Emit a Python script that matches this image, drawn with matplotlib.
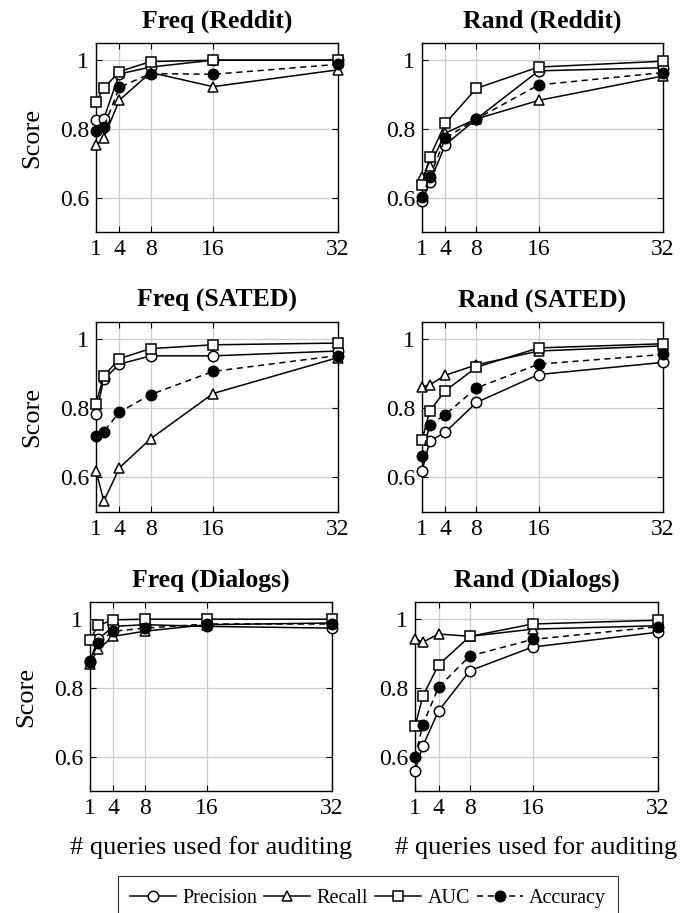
import matplotlib
matplotlib.use("Agg")
import matplotlib.pyplot as plt
from matplotlib.lines import Line2D

plt.rcParams["font.family"] = ["Liberation Serif", "DejaVu Serif"]

queries = [1, 2, 4, 8, 16, 32]
x_ticks = [1, 4, 8, 16, 32]
y_ticks = [0.6, 0.8, 1.0]
y_tick_labels = ["0.6", "0.8", "1"]

titles = ["Freq (Reddit)", "Rand (Reddit)",
          "Freq (SATED)", "Rand (SATED)",
          "Freq (Dialogs)", "Rand (Dialogs)"]

# one list per metric, one row per panel (same order as titles)
precision = [
    [0.825, 0.83, 0.96, 0.98, 1.0, 1.0],
    [0.59, 0.645, 0.754, 0.829, 0.969, 0.978],
    [0.784, 0.884, 0.928, 0.952, 0.952, 0.966],
    [0.619, 0.705, 0.731, 0.817, 0.898, 0.933],
    [0.879, 0.941, 0.979, 0.984, 0.979, 0.974],
    [0.559, 0.631, 0.733, 0.850, 0.919, 0.962],
]
recall = [
    [0.752, 0.774, 0.884, 0.964, 0.923, 0.972],
    [0.659, 0.692, 0.788, 0.829, 0.883, 0.954],
    [0.62, 0.531, 0.628, 0.712, 0.843, 0.947],
    [0.863, 0.868, 0.896, 0.926, 0.966, 0.981],
    [0.871, 0.912, 0.950, 0.965, 0.984, 0.989],
    [0.943, 0.933, 0.957, 0.950, 0.971, 0.981],
]
auc = [
    [0.879, 0.919, 0.967, 0.996, 1.0, 1.0],
    [0.638, 0.718, 0.816, 0.918, 0.98, 0.997],
    [0.814, 0.894, 0.944, 0.973, 0.984, 0.989],
    [0.708, 0.793, 0.851, 0.919, 0.975, 0.987],
    [0.938, 0.982, 0.998, 1.0, 1.0, 1.0],
    [0.688, 0.776, 0.867, 0.950, 0.986, 0.997],
]
accuracy = [
    [0.795, 0.805, 0.921, 0.961, 0.959, 0.988],
    [0.602, 0.661, 0.773, 0.829, 0.928, 0.964],
    [0.719, 0.733, 0.789, 0.840, 0.907, 0.953],
    [0.661, 0.752, 0.782, 0.859, 0.928, 0.956],
    [0.876, 0.931, 0.965, 0.974, 0.986, 0.986],
    [0.598, 0.693, 0.802, 0.893, 0.941, 0.978],
]

W, H = 683, 913
# axes boxes in pixels: left, top, right, bottom
boxes = [
    (96, 43, 338, 232), (422, 43, 663, 232),
    (96, 322, 338, 512), (422, 322, 663, 512),
    (90, 602, 332, 791), (415, 602, 658, 791),
]

fig = plt.figure(figsize=(W / 100, H / 100), dpi=100)

styles = [
    dict(marker="o", linestyle="-", mfc="white", label="Precision"),
    dict(marker="^", linestyle="-", mfc="white", label="Recall"),
    dict(marker="s", linestyle="-", mfc="white", label="AUC"),
    dict(marker="o", linestyle=(0, (4, 3)), mfc="black", label="Accuracy"),
]

for i, (l, t, r, b) in enumerate(boxes):
    ax = fig.add_axes([l / W, 1 - b / H, (r - l) / W, (b - t) / H])
    for series, st in zip([precision, recall, auc, accuracy], styles):
        ax.plot(queries, series[i], color="black", lw=1.1, ms=7.5,
                mec="black", mew=1.1, clip_on=False, zorder=3,
                marker=st["marker"], linestyle=st["linestyle"], mfc=st["mfc"])
    ax.set_xlim(1, 32)
    ax.set_ylim(0.5, 1.05)
    ax.set_xticks(x_ticks)
    ax.set_yticks(y_ticks)
    ax.set_yticklabels(y_tick_labels)
    ax.grid(True, color="#cccccc", lw=0.9)
    ax.set_axisbelow(True)
    ax.tick_params(direction="in", length=4, width=0.8, labelsize=17,
                   top=True, right=True, pad=5)
    for sp in ax.spines.values():
        sp.set_linewidth(1.0)
    ax.set_title(titles[i], fontsize=18.5, fontweight="bold", pad=11)
    if i % 2 == 0:
        ax.set_ylabel("Score", fontsize=19, labelpad=12)
    if i >= 4:
        ax.set_xlabel("# queries used for auditing", fontsize=19, labelpad=12)

handles = [Line2D([], [], color="black", lw=1.1, ms=7.5, mec="black", mew=1.1,
                  marker=st["marker"], linestyle=st["linestyle"], mfc=st["mfc"],
                  label=st["label"]) for st in styles]
leg = fig.legend(handles=handles, loc="center", bbox_to_anchor=(368 / W, 1 - 898 / H),
                 ncol=4, fontsize=14.5, frameon=True, fancybox=False,
                 edgecolor="black", handlelength=2.3, handletextpad=0.3,
                 columnspacing=0.35, borderpad=0.6, borderaxespad=0)
leg.get_frame().set_linewidth(0.8)

fig.savefig("out.png", dpi=100)
